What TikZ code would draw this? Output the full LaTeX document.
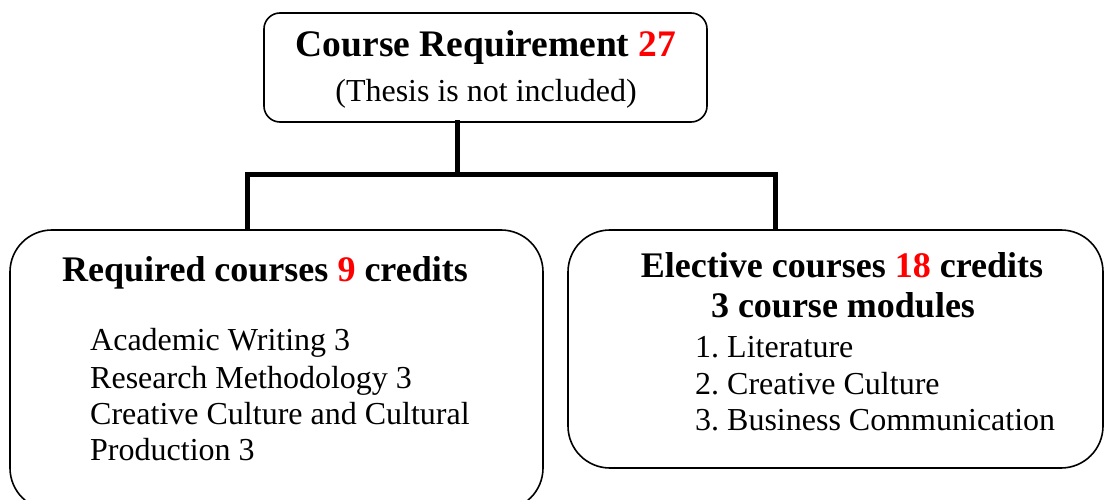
\documentclass[tikz,border=0pt]{standalone}
\usepackage{fontspec}
\setmainfont{Liberation Serif}
\begin{document}
\begin{tikzpicture}[x=1bp,y=-1bp,
  box/.style={draw=black,line width=1.6bp,fill=white,inner sep=0pt},
  conn/.style={draw=black,line width=5bp,line cap=rect},
  head/.style={font=\fontsize{36bp}{40bp}\selectfont\bfseries,inner sep=0pt},
  bighead/.style={font=\fontsize{37.5bp}{40bp}\selectfont\bfseries,inner sep=0pt},
  body/.style={font=\fontsize{32bp}{36bp}\selectfont,inner sep=0pt}]
\clip (0,0) rectangle (1105,500);
\fill[white] (0,0) rectangle (1105,500);
% boxes
\node[box,rounded corners=16bp,minimum width=443bp,minimum height=109bp] (top) at (485.5,67.5) {};
\node[box,rounded corners=42bp,minimum width=533bp,minimum height=280bp] (req) at (276.5,370) {};
\node[box,rounded corners=42bp,minimum width=535bp,minimum height=238bp] (ele) at (835.5,349) {};
% connectors
\coordinate (j) at (457,175);
\coordinate (lj) at (247,175);
\coordinate (rj) at (775,175);
\draw[conn] (j |- top.south) -- (j);
\draw[conn,line cap=butt] (lj |- req.north) -- (lj) -- (rj) -- (rj |- ele.north);
% texts
\node[bighead,anchor=base] (t1) at (486,57) {Course Requirement \textcolor{red}{27}};
\node[body,anchor=base] (t2) at (486,102) {(Thesis is not included)};
\node[head,anchor=base] (r0) at (265,282) {Required courses \textcolor{red}{9} credits};
\node[body,anchor=base west] (r1) at (90,351) {Academic Writing 3};
\node[body,anchor=base west] (r2) at (90,388) {Research Methodology 3};
\node[body,anchor=base west] (r3) at (90,424) {Creative Culture and Cultural};
\node[body,anchor=base west] (r4) at (90,460) {Production 3};
\node[head,anchor=base] (e0) at (842,278) {Elective courses \textcolor{red}{18} credits};
\node[head,anchor=base] (e1) at (843,318) {3 course modules};
\node[body,anchor=base west] (e2) at (695,358) {1.\hspace{8bp}Literature};
\node[body,anchor=base west] (e3) at (695,394) {2.\hspace{8bp}Creative Culture};
\node[body,anchor=base west] (e4) at (695,430) {3.\hspace{8bp}Business Communication};
\end{tikzpicture}
\end{document}
